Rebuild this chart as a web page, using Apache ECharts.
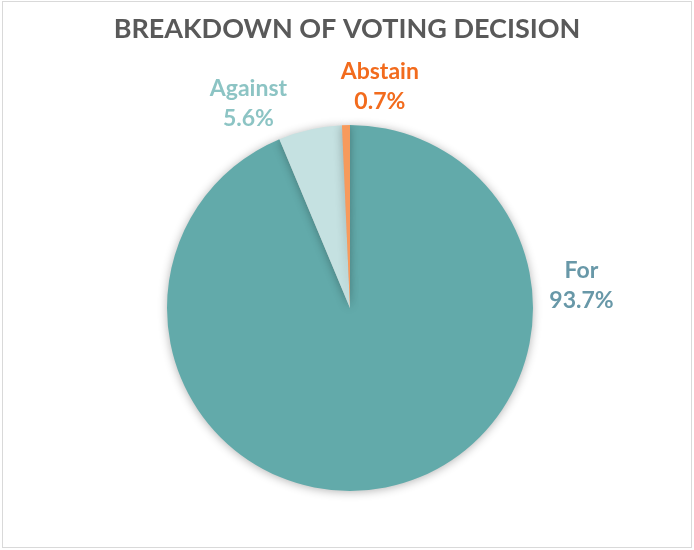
<!DOCTYPE html>
<html><head><meta charset="utf-8">
<script src="https://cdn.jsdelivr.net/npm/echarts@6/dist/echarts.min.js"></script>
<style>html,body{margin:0;padding:0;background:#fff}#c{box-sizing:border-box;border:1px solid #d9d9d9;position:absolute;left:2px;top:1px;width:690px;height:547px}</style>
</head><body><div id="c"></div>
<script>
var categories = ['For', 'Against', 'Abstain'];
var values = [93.7, 5.6, 0.7];
var sliceColors = ['#62AAAA', '#C5E1E1', '#F79A5C'];
var labelColors = ['#6898A8', '#8CC4C4', '#F26B1D'];
// label anchor offsets relative to pie center, in radius units
var labelPos = [[1.265, -0.12], [-0.555, -1.115], [0.163, -1.208]];

var chart = echarts.init(document.getElementById('c'));
var cx = 347, cy = 306, r = 183;
chart.setOption({
  animation: false,
  title: {
    text: 'BREAKDOWN OF VOTING DECISION',
    left: 'center', top: 9,
    textStyle: {fontFamily: 'Lato', fontWeight: 'bold', fontSize: 27, color: '#595959'}
  },
  series: [{
    type: 'pie',
    center: [cx, cy], radius: r,
    startAngle: 90, clockwise: true,
    itemStyle: {shadowBlur: 10, shadowColor: 'rgba(0,0,0,0.3)', shadowOffsetY: 1},
    label: {
      show: true, position: 'outside',
      formatter: function(p){ return p.name + '\n' + p.value.toFixed(1) + '%'; },
      fontFamily: 'Lato', fontWeight: 'bold', fontSize: 23, lineHeight: 30, align: 'center'
    },
    labelLine: {show: false},
    labelLayout: function(p){
      var lp = labelPos[p.dataIndex];
      return {x: cx + lp[0]*r, y: cy + lp[1]*r, align: 'center', verticalAlign: 'middle'};
    },
    data: categories.map(function(n, i){
      return {name: n, value: values[i], itemStyle: {color: sliceColors[i]}, label: {color: labelColors[i]}};
    })
  }]
});
</script></body></html>
